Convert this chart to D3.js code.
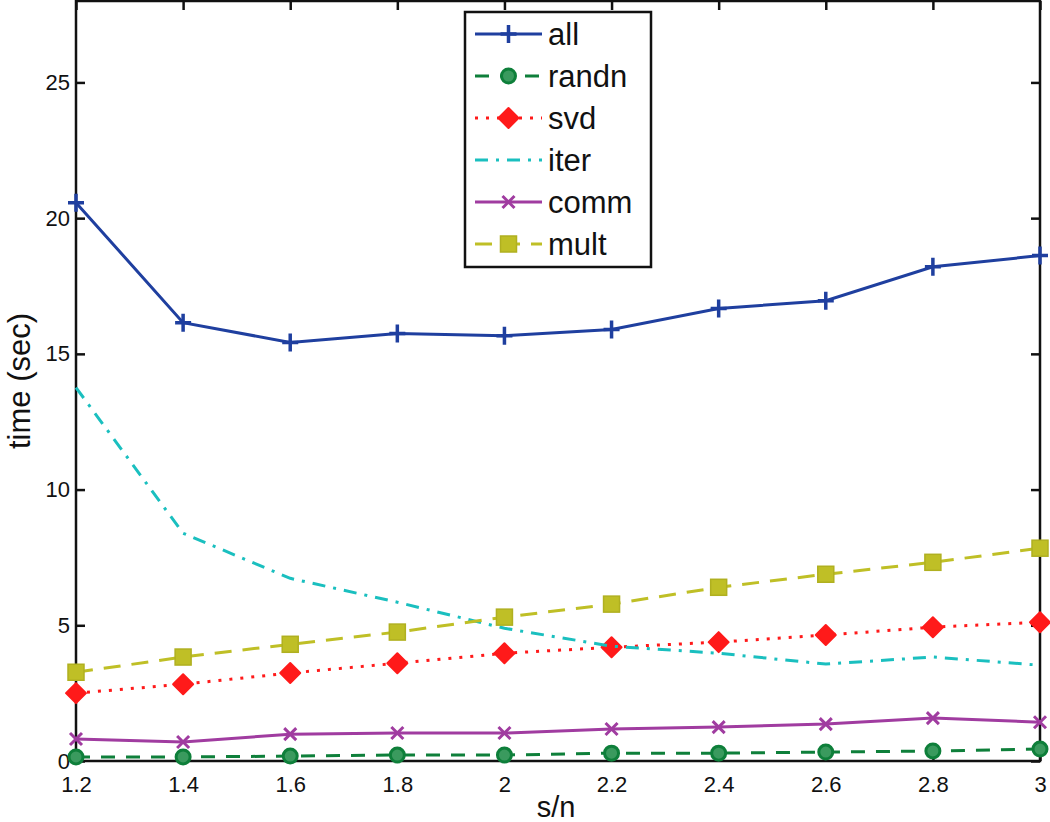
<!DOCTYPE html>
<html>
<head>
<meta charset="utf-8">
<script src="https://cdn.jsdelivr.net/npm/d3@7"></script>
<style>
  body { margin: 0; background: #fff; }
  svg text { font-family: Arial, "Liberation Sans", sans-serif; }
</style>
</head>
<body>
<svg width="1050" height="822"></svg>
<script>
// data
var sn = [1.2, 1.4, 1.6, 1.8, 2.0, 2.2, 2.4, 2.6, 2.8, 3.0];
var all   = [20.57, 16.15, 15.42, 15.75, 15.67, 15.9, 16.67, 16.96, 18.21, 18.62];
var randn = [0.15, 0.15, 0.18, 0.22, 0.22, 0.29, 0.29, 0.33, 0.37, 0.44];
var svdT  = [2.5, 2.83, 3.24, 3.6, 3.97, 4.19, 4.38, 4.64, 4.93, 5.11];
var iter  = [13.76, 8.39, 6.73, 5.85, 4.89, 4.23, 3.97, 3.57, 3.83, 3.53];
var comm  = [0.81, 0.70, 0.99, 1.03, 1.03, 1.18, 1.25, 1.36, 1.58, 1.43];
var mult  = [3.27, 3.83, 4.30, 4.75, 5.30, 5.78, 6.40, 6.88, 7.32, 7.84];
var xTicks = [1.2, 1.4, 1.6, 1.8, 2, 2.2, 2.4, 2.6, 2.8, 3];
var yTicks = [0, 5, 10, 15, 20, 25];

var series = [
  { name: "all",   values: all,   color: "#1f3f9f", dash: null,       marker: "plus" },
  { name: "randn", values: randn, color: "#0e7f3a", dash: "14,11",    marker: "circle" },
  { name: "svd",   values: svdT,  color: "#ff1a1a", dash: "3,8",      marker: "diamond" },
  { name: "iter",  values: iter,  color: "#1abfbf", dash: "13,8,3,8", marker: null },
  { name: "comm",  values: comm,  color: "#a03ca0", dash: null,       marker: "x" },
  { name: "mult",  values: mult,  color: "#bfbf26", dash: "17,11",    marker: "square" }
];

var svg = d3.select("svg");
var plotL = 76, plotR = 1040, plotT = 1, plotB = 761;

var x = d3.scaleLinear().domain([1.2, 3]).range([plotL, plotR]);
var y = d3.scaleLinear().domain([0, 28]).range([plotB, plotT]);

// axes with inward ticks, box style
var tk = 9;
svg.append("g").attr("transform", "translate(0," + plotB + ")")
  .call(d3.axisBottom(x).tickValues(xTicks).tickSize(-tk).tickPadding(15).tickFormat(d3.format("~g")))
  .call(function(g) { g.select(".domain").remove(); })
  .selectAll("text").attr("font-size", 22).attr("fill", "#111");
svg.append("g").attr("transform", "translate(0," + plotT + ")")
  .call(d3.axisTop(x).tickValues(xTicks).tickSize(-tk).tickFormat(""))
  .call(function(g) { g.select(".domain").remove(); });
svg.append("g").attr("transform", "translate(" + plotL + ",0)")
  .call(d3.axisLeft(y).tickValues(yTicks).tickSize(-tk).tickPadding(6))
  .call(function(g) { g.select(".domain").remove(); })
  .selectAll("text").attr("font-size", 22).attr("fill", "#111");
svg.append("g").attr("transform", "translate(" + plotR + ",0)")
  .call(d3.axisRight(y).tickValues(yTicks).tickSize(-tk).tickFormat(""))
  .call(function(g) { g.select(".domain").remove(); });
svg.selectAll(".tick line").attr("stroke", "#111").attr("stroke-width", 2.5);

svg.append("rect")
  .attr("x", plotL).attr("y", plotT)
  .attr("width", plotR - plotL).attr("height", plotB - plotT)
  .attr("fill", "none").attr("stroke", "#111").attr("stroke-width", 2.5);

var line = d3.line()
  .x(function(d, i) { return x(sn[i]); })
  .y(function(d) { return y(d); });

function drawMarker(g, type, cx, cy, color) {
  if (type === "plus") {
    g.append("path").attr("d", "M" + (cx - 8) + "," + cy + "H" + (cx + 8) + "M" + cx + "," + (cy - 9) + "V" + (cy + 9))
      .attr("stroke", color).attr("stroke-width", 3.5).attr("fill", "none");
  } else if (type === "circle") {
    g.append("circle").attr("cx", cx).attr("cy", cy).attr("r", 7)
      .attr("fill", "#3a9a5e").attr("stroke", color).attr("stroke-width", 3);
  } else if (type === "diamond") {
    g.append("path").attr("d", "M" + cx + "," + (cy - 10) + "L" + (cx + 10) + "," + cy + "L" + cx + "," + (cy + 10) + "L" + (cx - 10) + "," + cy + "Z")
      .attr("fill", color).attr("stroke", color).attr("stroke-width", 2).attr("stroke-linejoin", "round");
  } else if (type === "x") {
    g.append("path").attr("d", "M" + (cx - 6) + "," + (cy - 6) + "L" + (cx + 6) + "," + (cy + 6) + "M" + (cx - 6) + "," + (cy + 6) + "L" + (cx + 6) + "," + (cy - 6))
      .attr("stroke", color).attr("stroke-width", 3).attr("fill", "none");
  } else if (type === "square") {
    g.append("rect").attr("x", cx - 8).attr("y", cy - 8).attr("width", 16).attr("height", 16)
      .attr("fill", color).attr("stroke", "#b0b020").attr("stroke-width", 1.5);
  }
}

var plot = svg.append("g");
series.forEach(function(s) {
  plot.append("path").datum(s.values)
    .attr("d", line)
    .attr("fill", "none")
    .attr("stroke", s.color)
    .attr("stroke-width", 3)
    .attr("stroke-dasharray", s.dash);
  if (s.marker) {
    s.values.forEach(function(v, i) { drawMarker(plot, s.marker, x(sn[i]), y(v), s.color); });
  }
});

// legend
var lg = svg.append("g");
lg.append("rect").attr("x", 465).attr("y", 12).attr("width", 186).attr("height", 255)
  .attr("fill", "#fff").attr("stroke", "#111").attr("stroke-width", 2.5);
series.forEach(function(s, i) {
  var ly = 34 + i * 42;
  lg.append("line").attr("x1", 475).attr("x2", 542).attr("y1", ly).attr("y2", ly)
    .attr("stroke", s.color).attr("stroke-width", 3).attr("stroke-dasharray", s.dash);
  if (s.marker) drawMarker(lg, s.marker, 508.5, ly, s.color);
  lg.append("text").attr("x", 548).attr("y", ly + 11).attr("font-size", 31).attr("fill", "#111").text(s.name);
});

// axis titles
svg.append("text").attr("x", 556).attr("y", 817).attr("text-anchor", "middle")
  .attr("font-size", 29).attr("fill", "#111").text("s/n");
svg.append("text").attr("transform", "translate(30,381) rotate(-90)").attr("text-anchor", "middle")
  .attr("font-size", 31).attr("fill", "#111").text("time (sec)");
</script>
</body>
</html>
